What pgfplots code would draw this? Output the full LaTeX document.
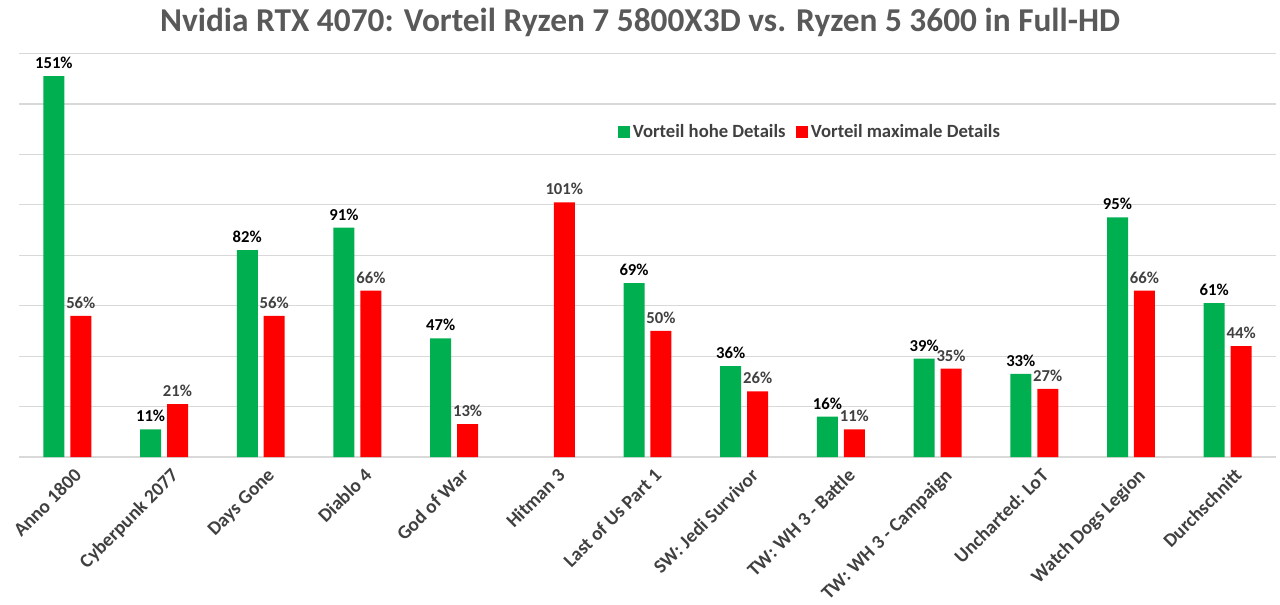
\documentclass[border=0pt]{standalone}
\usepackage{fontspec}
\setmainfont{Carlito}
\usepackage{pgfplots}
\pgfplotsset{compat=1.18}
\definecolor{bgreen}{HTML}{00B050}
\definecolor{bred}{HTML}{FF0000}
\definecolor{titlegray}{HTML}{595959}
\definecolor{txtgray}{HTML}{404040}
\definecolor{gridgray}{HTML}{D9D9D9}
\begin{document}
\begin{tikzpicture}
\path[use as bounding box] (0,0) rectangle (960pt,453pt);
\node[font=\bfseries\fontsize{25}{30}\selectfont, text=titlegray] at (480pt,436pt) {Nvidia RTX 4070: Vorteil Ryzen 7 5800X3D vs. Ryzen 5 3600 in Full-HD};
\begin{axis}[
  at={(14.25pt,110.25pt)}, anchor=south west,
  scale only axis, width=942.75pt, height=302.6pt,
  xmin=-0.5, xmax=12.5, ymin=0, ymax=160,
  ybar, bar width=15.75pt,
  axis line style={draw=none},
  major tick length=0pt,
  ytick={0,20,...,160}, yticklabels={},
  ymajorgrids, grid style={gridgray, line width=0.8pt},
  xtick={0,...,12},
  xticklabels={Anno 1800,Cyberpunk 2077,Days Gone,Diablo 4,God of War,Hitman 3,Last of Us Part 1,SW: Jedi Survivor,TW: WH 3 - Battle,TW: WH 3 - Campaign,Uncharted: LoT,Watch Dogs Legion,Durchschnitt},
  xticklabel style={rotate=45, anchor=north east, yshift=-5pt, xshift=1pt, font=\bfseries\fontsize{14.5}{16}\selectfont, text=txtgray},
  nodes near coords={\pgfmathprintnumber{\pgfplotspointmeta}\%},
  /pgf/number format/assume math mode=true,
  every node near coord/.append style={yshift=2pt},
  legend style={at={(0.4733,0.8055)}, anchor=west, draw=none, fill=none, legend columns=2, font=\bfseries\fontsize{14}{16}\selectfont, text=txtgray, /tikz/every even column/.append style={column sep=6pt}},
  legend image code/.code={\fill[#1] (0pt,-4.5pt) rectangle (9pt,4.5pt);},
]
\addplot[fill=bgreen, draw=none, bar shift=-10.1pt, every node near coord/.append style={font=\bfseries\fontsize{12.5}{14}\selectfont, text=black}] coordinates {
(0,151) (1,11) (2,82) (3,91) (4,47) (6,69) (7,36) (8,16) (9,39) (10,33) (11,95) (12,61)};
\addlegendentry{Vorteil hohe Details}
\addplot[fill=bred, draw=none, bar shift=10.1pt, every node near coord/.append style={font=\bfseries\fontsize{12.5}{14}\selectfont, text=txtgray}] coordinates {
(0,56) (1,21) (2,56) (3,66) (4,13) (5,101) (6,50) (7,26) (8,11) (9,35) (10,27) (11,66) (12,44)};
\addlegendentry{Vorteil maximale Details}
\end{axis}
\end{tikzpicture}
\end{document}
